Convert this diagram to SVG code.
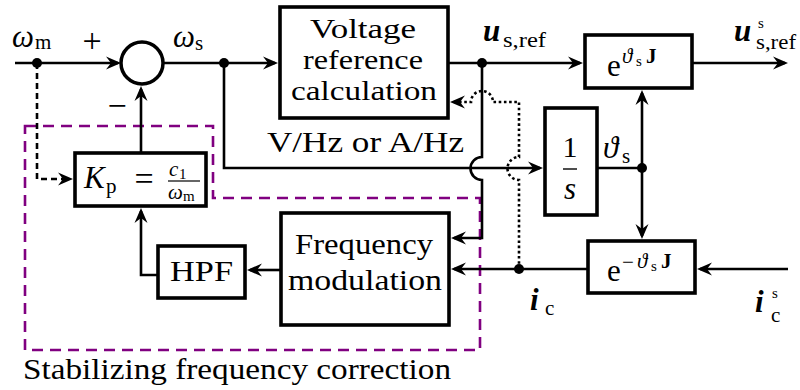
<svg xmlns="http://www.w3.org/2000/svg" width="800" height="390" viewBox="0 0 800 390" font-family="Liberation Serif, DejaVu Serif, serif">
<style>
.box{fill:#fff;stroke:#000;stroke-width:3.6}
.ln{fill:none;stroke:#000;stroke-width:2.6}
.arr{marker-end:url(#ah)}
.t{font-size:30px}
.v{font-size:28px}
.m{font-style:italic}
.s{font-size:21px}
.ss{font-size:15px}
.b{font-weight:bold}
.dot{fill:#000}
</style>
<defs>
<marker id="ah" viewBox="-16 -7 17 14" refX="-3" refY="0" markerWidth="17" markerHeight="14" markerUnits="userSpaceOnUse" orient="auto">
<path d="M0,0 L-15,-6.5 L-10,0 L-15,6.5 Z" fill="#000"/>
</marker>
</defs>
<rect width="800" height="390" fill="#fff"/>

<g id="stabilizing-region">
<path d="M25,126 H213 V198 H480 V350 H25 Z" fill="none" stroke="#800080" stroke-width="2.6" stroke-dasharray="11,7"/>
<text class="t" font-family="Liberation Serif, serif" x="23" y="379" textLength="428" lengthAdjust="spacingAndGlyphs">Stabilizing frequency correction</text>
</g>

<g id="connectors">
<path class="ln arr" d="M15,63 H118"/>
<path class="ln arr" d="M37,63 V179 H70" stroke-dasharray="6,4"/>
<path class="ln arr" d="M163,63 H275"/>
<path class="ln arr" d="M224,63 V168 H540"/>
<path class="ln arr" d="M482,63 V157 A11.5,11.5 0 0 0 482,180 V238 H454"/>
<path class="ln arr" d="M519,269 V180 A11.5,11.5 0 0 1 519,157 V102 H493 A11,11 0 0 0 471,102 H453" stroke-dasharray="2.6,2.6"/>
<path class="ln arr" d="M448,63 H580"/>
<path class="ln arr" d="M692,63 H785"/>
<path class="ln" d="M597,168 H642"/>
<path class="ln arr" d="M642,168 V93"/>
<path class="ln arr" d="M642,168 V236"/>
<path class="ln arr" d="M788,269 H700"/>
<path class="ln arr" d="M588,269 H454"/>
<path class="ln arr" d="M281,270 H250"/>
<path class="ln arr" d="M158,275 H141 V211"/>
<path class="ln arr" d="M141,153 V89"/>
<circle class="dot" cx="37" cy="63" r="5"/>
<circle class="dot" cx="224" cy="63" r="5"/>
<circle class="dot" cx="482" cy="63" r="5"/>
<circle class="dot" cx="642" cy="168" r="5"/>
<circle class="dot" cx="519" cy="269" r="5"/>
</g>

<g id="sum">
<circle cx="142" cy="63" r="21" fill="#fff" stroke="#000" stroke-width="3.5"/>
<text x="92" y="52" text-anchor="middle" font-size="34">+</text>
<text x="117" y="117" text-anchor="middle" font-size="34">−</text>
</g>

<g id="voltage-ref">
<rect class="box" x="280" y="7" width="168" height="111"/>
<text class="v" x="363" y="38" text-anchor="middle" textLength="106" lengthAdjust="spacingAndGlyphs">Voltage</text>
<text class="v" x="363" y="69" text-anchor="middle" textLength="120" lengthAdjust="spacingAndGlyphs">reference</text>
<text class="v" x="364" y="100" text-anchor="middle" textLength="146" lengthAdjust="spacingAndGlyphs">calculation</text>
<text class="t" x="267" y="152" textLength="197" lengthAdjust="spacingAndGlyphs">V/Hz or A/Hz</text>
</g>

<g id="rot">
<rect class="box" x="585" y="35" width="107" height="53"/>
<text x="607" y="76" font-size="31">e</text>
<text class="m s" x="622" y="63">ϑ</text>
<text class="ss" x="636" y="66">s</text>
<text class="b s" x="646" y="63">J</text>
</g>

<g id="integrator">
<rect class="box" x="545" y="108" width="52" height="107"/>
<text class="t" x="570" y="157" text-anchor="middle">1</text>
<line x1="563" y1="169" x2="577" y2="169" stroke="#000" stroke-width="1.4"/>
<text class="m" x="570" y="199" text-anchor="middle" font-size="31">s</text>
</g>

<g id="inv-rot">
<rect class="box" x="588" y="241" width="107" height="52"/>
<text x="607" y="281" font-size="31">e</text>
<text class="s" x="622" y="269">−</text>
<text class="m s" x="637" y="268">ϑ</text>
<text class="ss" x="651" y="271">s</text>
<text class="b s" x="661" y="268">J</text>
</g>

<g id="freq-mod">
<rect class="box" x="281" y="213" width="168" height="112"/>
<text class="t" x="364" y="254" text-anchor="middle" textLength="138" lengthAdjust="spacingAndGlyphs">Frequency</text>
<text class="t" x="365" y="290" text-anchor="middle" textLength="154" lengthAdjust="spacingAndGlyphs">modulation</text>
</g>

<g id="hpf">
<rect class="box" x="158" y="246" width="87" height="52"/>
<text class="t" x="170" y="281" textLength="63" lengthAdjust="spacingAndGlyphs">HPF</text>
</g>

<g id="kp">
<rect class="box" x="75" y="153" width="131" height="53"/>
<text class="m" x="84" y="188" font-size="31">K</text>
<text class="s" x="106" y="193">p</text>
<text x="144" y="190" text-anchor="middle" font-size="34">=</text>
<text class="m s" x="169" y="176">c</text>
<text class="ss" x="179" y="179">1</text>
<line x1="168" y1="181" x2="200" y2="181" stroke="#000" stroke-width="1.2"/>
<text class="m s" x="168" y="199">ω</text>
<text class="ss" x="183" y="201">m</text>
</g>

<g id="labels">
<text class="m" x="12" y="47" font-size="31">ω</text>
<text class="s" x="35" y="49">m</text>
<text class="m" x="173" y="47" font-size="31">ω</text>
<text class="s" x="195" y="50">s</text>
<text class="m b" x="483" y="41" font-size="31">u</text>
<text class="s" x="503" y="47" textLength="43" lengthAdjust="spacingAndGlyphs">s,ref</text>
<text class="m b" x="734" y="41" font-size="31">u</text>
<text class="ss" x="758" y="28" font-size="18">s</text>
<text class="s" x="756" y="49" textLength="40" lengthAdjust="spacingAndGlyphs">s,ref</text>
<text class="m" x="603" y="158" font-size="31">ϑ</text>
<text class="s" x="622" y="163">s</text>
<text class="m b" x="530" y="310" font-size="31">i</text>
<text class="s" x="545" y="315">c</text>
<text class="m b" x="755" y="312" font-size="31">i</text>
<text class="ss" x="772" y="298" font-size="18">s</text>
<text class="s" x="771" y="322">c</text>
</g>
</svg>
